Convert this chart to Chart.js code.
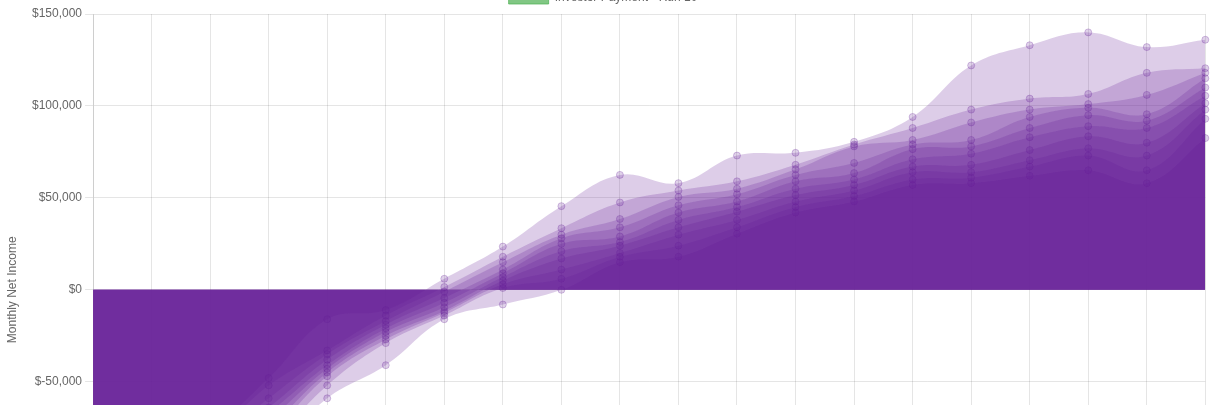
<!DOCTYPE html>
<html><head><meta charset="utf-8">
<script src="https://cdn.jsdelivr.net/npm/chart.js@4.4.0/dist/chart.umd.min.js"></script>
<style>
html,body{margin:0;padding:0;overflow:hidden;background:#fff;width:1215px;height:405px}
#wrap{position:absolute;left:0;top:0;width:1215px}
canvas{display:block}
</style></head><body>
<div id="wrap"></div>
<script>
const months = ["1","2","3","4","5","6","7","8","9","10","11","12","13","14","15","16","17","18","19","20"];
const run1  = [-90000,-84000,-75000,-48000,-16000,-11000,6000,23500,45500,62500,58000,73000,74500,80500,94000,122000,133000,140000,132000,136000];
const run2  = [-94000,-89000,-79000,-52000,-33000,-14000,1500,18000,33500,47500,54000,59000,68000,79000,88000,98000,104000,106500,118000,120500];
const run3  = [-97000,-93000,-83000,-59000,-35000,-17000,-1000,15000,30000,38500,50500,55000,65500,78000,81500,91000,98000,101000,106000,118000];
const run4  = [-100000,-96000,-87000,-64000,-38000,-19000,-4500,11000,28000,34000,46000,52000,62500,69000,79000,81500,94000,99000,95500,115000];
const run5  = [-102000,-99000,-90000,-67000,-41000,-21000,-7000,9000,25000,29000,42000,48000,59000,63500,76500,78000,88000,95000,92000,110000];
const run6  = [-105000,-103000,-94000,-71000,-43000,-23000,-9500,7000,21000,26000,38000,45000,55000,60000,71000,74000,83000,89000,88000,105500];
const run7  = [-108000,-107000,-98000,-75000,-45000,-25000,-11500,5000,17000,24000,34000,42500,51500,57000,67000,68000,76000,83500,80000,101500];
const run8  = [-111000,-111000,-102000,-79000,-47000,-27000,-12500,3000,11000,20000,30000,38000,48000,54000,64000,64000,70500,77000,73000,98000];
const run9  = [-115000,-116000,-107000,-84000,-52000,-29000,-14000,1000,6000,18000,24000,34000,45000,51000,60000,61000,67000,73000,65000,93000];
const run10 = [-120000,-122000,-113000,-90000,-59000,-41000,-16000,-8000,0,15000,18000,30500,42000,48000,57000,58000,62000,65000,58000,82500];
const netIncomeRuns = [run1,run2,run3,run4,run5,run6,run7,run8,run9,run10];
const runNames = ["Run 1","Run 2","Run 3","Run 4","Run 5","Run 6","Run 7","Run 8","Run 9","Run 10"];
const yTicks = { min: -150000, max: 150000, step: 50000 };

const W = 1215, PAD_RIGHT = 9, PLOT_H = 552, PLOT_TOP = 14;
const FONT_FAMILY = "'Helvetica Neue', Helvetica, Arial, sans-serif";
const purpleFill = 'rgba(99,29,151,0.22)';
const purplePoint = 'rgba(99,29,151,0.2)';
const purplePointBorder = 'rgba(99,29,151,0.26)';
const greenFill = 'rgba(76,175,80,0.7)';

const datasets = [];
netIncomeRuns.forEach((d, i) => {
  datasets.push({
    label: 'Net Income - ' + runNames[i],
    data: d,
    fill: 'origin',
    backgroundColor: purpleFill,
    borderColor: 'rgba(99,29,151,0)',
    borderWidth: 0,
    pointRadius: 3.5,
    pointBackgroundColor: purplePoint,
    pointBorderColor: purplePointBorder,
    pointBorderWidth: 1,
    tension: 0.4
  });
  datasets.push({
    label: 'Investor Payment - ' + runNames[i],
    data: [],
    fill: false,
    backgroundColor: greenFill,
    borderColor: greenFill,
    borderWidth: 1
  });
});

// choose legend item padding so that the final legend item wraps onto its own row
function pickLegendPadding() {
  const ctx = document.createElement('canvas').getContext('2d');
  ctx.font = 'normal 12px ' + FONT_FAMILY;
  const widths = datasets.map(ds => 40 + 6 + ctx.measureText(ds.label).width);
  const maxW = W - PAD_RIGHT;
  for (let p = 6; p <= 90; p += 0.5) {
    const lines = [0]; let rows = [[]];
    widths.forEach((w, i) => {
      if (i === 0 || lines[lines.length - 1] + w + 2 * p > maxW) {
        if (i > 0) { lines.push(0); rows.push([]); }
      }
      lines[lines.length - 1] += w + p;
      rows[rows.length - 1].push(i);
    });
    const last = rows[rows.length - 1];
    if (last.length === 1 && rows.length > 1) {
      const prev = lines[lines.length - 2];
      if (prev + widths[widths.length - 1] + 2 * p > maxW + 4) return p;
    }
  }
  return 10;
}
const legendPad = pickLegendPadding();

Chart.defaults.font.family = FONT_FAMILY;
Chart.defaults.font.size = 12;
Chart.defaults.color = '#666';

function makeChart(height) {
  const wrap = document.getElementById('wrap');
  wrap.innerHTML = '';
  const cv = document.createElement('canvas');
  cv.width = W; cv.height = height;
  cv.style.width = W + 'px'; cv.style.height = height + 'px';
  wrap.appendChild(cv);
  return new Chart(cv, {
    type: 'line',
    data: { labels: months, datasets },
    options: {
      responsive: false,
      maintainAspectRatio: false,
      animation: false,
      layout: { padding: { right: PAD_RIGHT } },
      plugins: {
        legend: { position: 'top', labels: { boxWidth: 40, padding: legendPad } },
        tooltip: { enabled: false }
      },
      scales: {
        x: { grid: { color: 'rgba(0,0,0,0.1)' }, ticks: { maxRotation: 0 } },
        y: {
          min: yTicks.min, max: yTicks.max,
          ticks: { stepSize: yTicks.step, callback: v => '$' + v.toLocaleString('en-US') },
          title: { display: true, text: 'Monthly Net Income', padding: { top: 5, bottom: 5.6 } },
          grid: { color: 'rgba(0,0,0,0.1)' }
        }
      }
    }
  });
}
let chart = makeChart(720);
const h2 = Math.round(720 + PLOT_H - chart.chartArea.height);
chart.destroy();
chart = makeChart(h2);
document.getElementById('wrap').style.top = (PLOT_TOP - chart.chartArea.top) + 'px';
</script>
</body></html>
